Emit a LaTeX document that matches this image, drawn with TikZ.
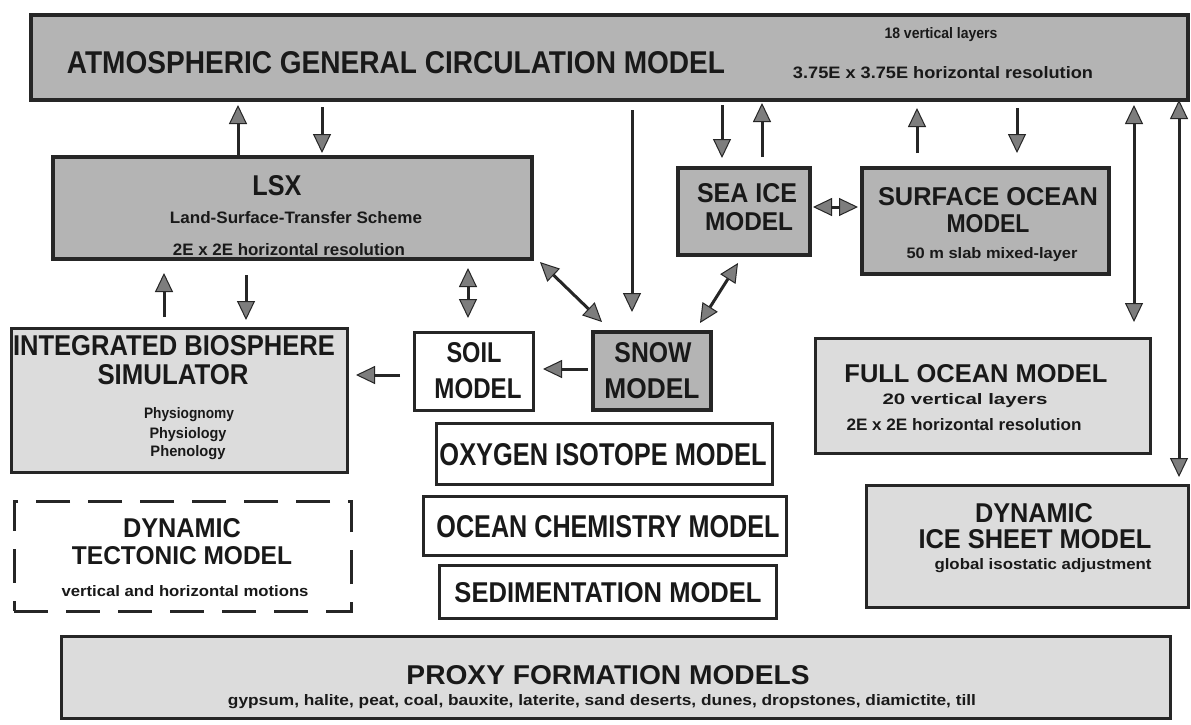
\documentclass[tikz,border=0pt]{standalone}
\usepackage{graphicx}
\usepackage{fontspec}
\setmainfont{Liberation Sans}
\usetikzlibrary{arrows.meta,calc}
\definecolor{boxdark}{RGB}{180,180,180}
\definecolor{boxlight}{RGB}{220,220,220}
\definecolor{edgec}{RGB}{38,38,38}
\definecolor{headc}{RGB}{125,125,125}
\definecolor{inkc}{RGB}{25,25,25}
\newcommand{\ft}[3]{\resizebox{#1pt}{#2pt}{#3}}
\begin{document}
\begin{tikzpicture}[x=1pt,y=-1pt,
  box/.style={draw=edgec, line width=3pt, inner sep=0pt, outer sep=0pt, rectangle},
  darkbox/.style={box, line width=3.5pt, fill=boxdark},
  lightbox/.style={box, fill=boxlight},
  whitebox/.style={box, fill=white},
  dashbox/.style={box, fill=white, dash pattern=on 34pt off 18pt},
  lbl/.style={anchor=base, inner sep=0pt, outer sep=0pt, text=inkc, font=\bfseries},
  conn/.style={draw=edgec, line width=3pt, >={Triangle[length=19pt,width=18pt,fill=headc,line width=1pt]}},
]
\fill[white] (0,0) rectangle (1191,724);
\useasboundingbox (0,0) rectangle (1191,724);

% boxes
\node[darkbox, minimum width=1157pt, minimum height=85pt] (agcm) at (609.5,57.5) {};
\node[lbl] (agcmT) at (396,73) {\ft{658}{22}{ATMOSPHERIC GENERAL CIRCULATION MODEL}};
\node[lbl] (agcmA) at (941,38) {\ft{113}{11}{18 vertical layers}};
\node[lbl] (agcmB) at (943,78) {\ft{300}{12}{3.75E x 3.75E horizontal resolution}};

\node[darkbox, minimum width=479pt, minimum height=102pt] (lsx) at (292.5,208) {};
\node[lbl] (lsxT) at (277,195) {\ft{49}{20}{LSX}};
\node[lbl] (lsxA) at (296,223) {\ft{252}{12}{Land-Surface-Transfer Scheme}};
\node[lbl] (lsxB) at (289,255) {\ft{232}{12}{2E x 2E horizontal resolution}};

\node[darkbox, minimum width=132pt, minimum height=87pt] (seaice) at (744,211.5) {};
\node[lbl] (seaiceA) at (747,202) {\ft{100}{19}{SEA ICE}};
\node[lbl] (seaiceB) at (749,230) {\ft{88}{18}{MODEL}};

\node[darkbox, minimum width=247pt, minimum height=106pt] (surf) at (985.5,221) {};
\node[lbl] (surfA) at (988,205) {\ft{220}{18}{SURFACE OCEAN}};
\node[lbl] (surfB) at (988,232) {\ft{83}{18}{MODEL}};
\node[lbl] (surfC) at (992,258) {\ft{171}{11}{50 m slab mixed-layer}};

\node[lightbox, minimum width=336pt, minimum height=144pt] (bio) at (179,400) {};
\node[lbl] (bioA) at (174,355) {\ft{322}{20}{INTEGRATED BIOSPHERE}};
\node[lbl] (bioB) at (173,384) {\ft{151}{20}{SIMULATOR}};
\node[lbl] (bioC) at (189,418) {\ft{90}{11}{Physiognomy}};
\node[lbl] (bioD) at (188,438) {\ft{77}{11}{Physiology}};
\node[lbl] (bioE) at (188,456) {\ft{75}{11}{Phenology}};

\node[whitebox, minimum width=119pt, minimum height=78pt] (soil) at (473.5,371) {};
\node[lbl] (soilA) at (474,362) {\ft{55}{20}{SOIL}};
\node[lbl] (soilB) at (478,398) {\ft{87}{20}{MODEL}};

\node[darkbox, minimum width=118pt, minimum height=78pt] (snow) at (652,371) {};
\node[lbl] (snowA) at (653,362) {\ft{77}{20}{SNOW}};
\node[lbl] (snowB) at (652,398) {\ft{95}{20}{MODEL}};

\node[whitebox, minimum width=336pt, minimum height=61pt] (oxy) at (604,453.5) {};
\node[lbl] (oxyT) at (603,465) {\ft{327}{22}{OXYGEN ISOTOPE MODEL}};
\node[whitebox, minimum width=363pt, minimum height=59pt] (chem) at (604.5,525.5) {};
\node[lbl] (chemT) at (608,537) {\ft{343}{22}{OCEAN CHEMISTRY MODEL}};
\node[whitebox, minimum width=337pt, minimum height=53pt] (sed) at (607.5,591.5) {};
\node[lbl] (sedT) at (608,602) {\ft{307}{20}{SEDIMENTATION MODEL}};

\node[lightbox, minimum width=335pt, minimum height=115pt] (full) at (982.5,395.5) {};
\node[lbl] (fullA) at (976,382) {\ft{263}{18}{FULL OCEAN MODEL}};
\node[lbl] (fullB) at (965,404) {\ft{165}{11}{20 vertical layers}};
\node[lbl] (fullC) at (964,430) {\ft{235}{12}{2E x 2E horizontal resolution}};

\node[lightbox, minimum width=322pt, minimum height=122pt] (ice) at (1027,546) {};
\node[lbl] (iceA) at (1034,522) {\ft{118}{19}{DYNAMIC}};
\node[lbl] (iceB) at (1035,548) {\ft{233}{19}{ICE SHEET MODEL}};
\node[lbl] (iceC) at (1043,569) {\ft{217}{11}{global isostatic adjustment}};

\node[dashbox, minimum width=337pt, minimum height=110pt] (tect) at (182.5,556) {};
\node[lbl] (tectA) at (182,537) {\ft{118}{19}{DYNAMIC}};
\node[lbl] (tectB) at (182,564) {\ft{220}{18}{TECTONIC MODEL}};
\node[lbl] (tectC) at (185,596) {\ft{247}{11}{vertical and horizontal motions}};

\node[lightbox, minimum width=1109pt, minimum height=82pt] (proxy) at (615.5,677) {};
\node[lbl] (proxyA) at (608,684) {\ft{403}{19}{PROXY FORMATION MODELS}};
\node[lbl] (proxyB) at (602,705) {\ft{748}{11}{gypsum, halite, peat, coal, bauxite, laterite, sand deserts, dunes, dropstones, diamictite, till}};

% connectors
\draw[conn,->,shorten >=5pt] (lsx.north -| 238,0) -- (agcm.south -| 238,0);
\draw[conn,->,shorten <=7pt,shorten >=4pt] (agcm.south -| 322,0) -- (lsx.north -| 322,0);
\draw[conn,->,shorten <=10pt,shorten >=20pt] (agcm.south -| 632,0) -- (snow.north -| 632,0);
\draw[conn,->,shorten <=5pt,shorten >=10pt] (agcm.south -| 722,0) -- (seaice.north -| 722,0);
\draw[conn,->,shorten <=11pt,shorten >=3pt] (seaice.north -| 762,0) -- (agcm.south -| 762,0);
\draw[conn,->,shorten <=15pt,shorten >=8pt] (surf.north -| 917,0) -- (agcm.south -| 917,0);
\draw[conn,->,shorten <=8pt,shorten >=15pt] (agcm.south -| 1017,0) -- (surf.north -| 1017,0);
\draw[conn,<->,shorten <=5pt,shorten >=16pt] (agcm.south -| 1134,0) -- (full.north -| 1134,0);
\draw[conn,<->,shorten >=8pt] (agcm.south -| 1179,0) -- (ice.north -| 1179,0);
\draw[conn,<->,shorten <=3pt,shorten >=4pt] (seaice.east |- 0,207) -- (surf.west |- 0,207);
\draw[conn,->,shorten <=11pt,shorten >=14pt] (bio.north -| 164,0) -- (lsx.south -| 164,0);
\draw[conn,->,shorten <=16pt,shorten >=8pt] (lsx.south -| 246,0) -- (bio.north -| 246,0);
\draw[conn,<->,shorten <=9pt,shorten >=14pt] (lsx.south -| 468,0) -- (soil.north -| 468,0);
\draw[conn,<->] ($(lsx.south east)+(8,3)$) -- ($(snow.north west)+(9,-10)$);
\draw[conn,<->] ($(seaice.south west)+(60,8)$) -- ($(snow.north east)+(-11,-9)$);
\draw[conn,->,shorten <=5pt,shorten >=10pt] (snow.west |- 0,369) -- (soil.east |- 0,369);
\draw[conn,->,shorten <=14pt,shorten >=9pt] (soil.west |- 0,375) -- (bio.east |- 0,375);
\end{tikzpicture}
\end{document}
